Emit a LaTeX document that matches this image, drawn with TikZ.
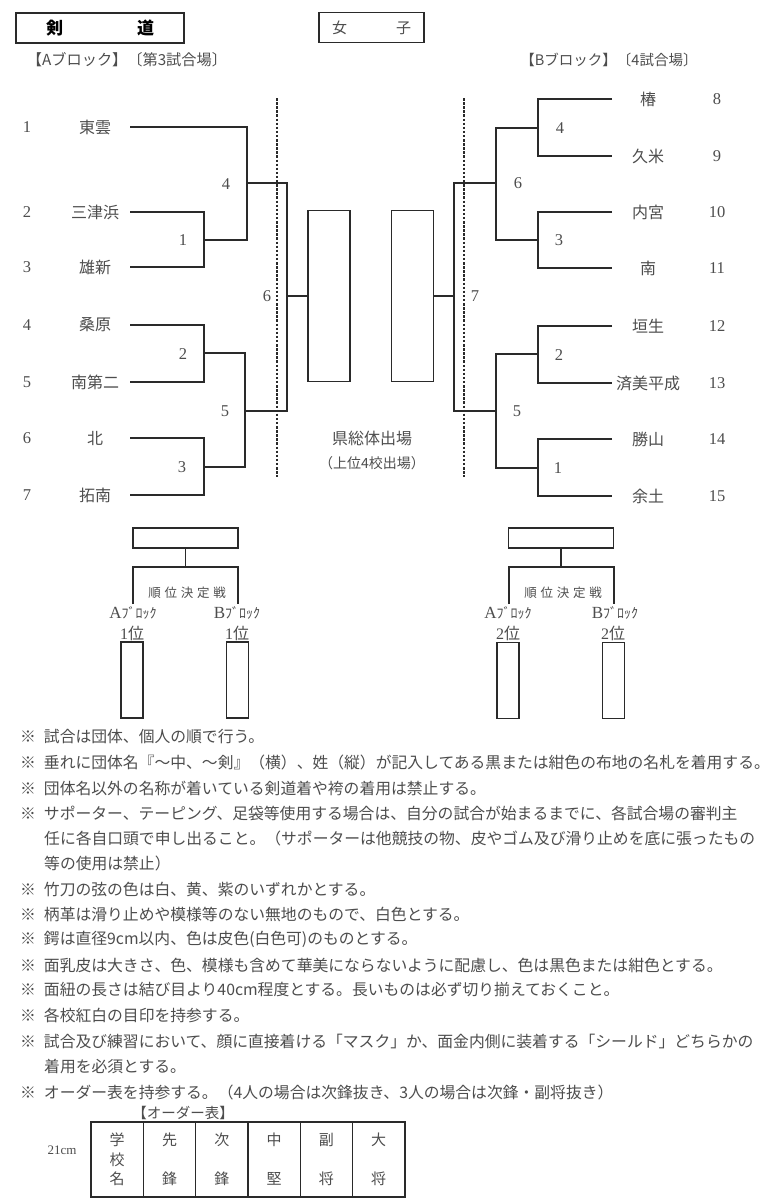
\documentclass[tikz,border=0pt]{standalone}
\usepackage{fontspec}
\setmainfont{Noto Sans CJK JP}
\newfontfamily\numfont{Liberation Serif}
\newfontfamily\wideJP[LetterSpace=30]{Noto Sans CJK JP}
\usepackage{xcolor}
\usepackage{tikz}
\usetikzlibrary{positioning}
\definecolor{KDInk}{HTML}{2A2A2A}
\definecolor{KDText}{HTML}{4D4D4D}

\tikzset{
  ln/.style={draw=KDInk, line width=1.3pt},
  dashln/.style={draw=KDInk, line width=1.1pt, dash pattern=on 2.5pt off 1.6pt},
  team/.style={text=KDText, font=\fontsize{16}{18}\selectfont},
  seed/.style={text=KDText, font=\numfont\fontsize{16.5}{18}\selectfont},
  game/.style={text=KDText, font=\numfont\fontsize{16.5}{18}\selectfont},
  slot/.style={draw=KDInk, line width=1.3pt, inner sep=0pt, minimum width=42pt, minimum height=171pt},
  rankbox/.style={draw=KDInk, line width=1.3pt, inner sep=0pt, minimum width=105pt, minimum height=20pt},
  tallbox/.style={draw=KDInk, line width=1.3pt, inner sep=0pt, minimum width=22pt, minimum height=76pt},
  titlebox/.style={draw=KDInk, line width=1.3pt, inner sep=0pt, minimum height=30pt},
  hdr/.style={text=KDText, font=\fontsize{14.5}{18}\selectfont},
  blk/.style={text=KDText, inner sep=0pt},
  note/.style={anchor=west, text=KDText, inner sep=0pt, font=\fontsize{15.8}{18}\selectfont},
  cell/.style={draw=KDInk, line width=1.3pt, inner sep=0pt, outer sep=0pt,
    minimum width=52.3pt, minimum height=75pt, align=center, text=KDText,
    font=\fontsize{15}{19.5}\selectfont},
}

\begin{document}
\begin{tikzpicture}[x=1pt, y=-1pt]
  \fill[white] (0,0) rectangle (781,1200);
  \useasboundingbox (0,0) rectangle (781,1200);

  % heading
  \node[titlebox, minimum width=168pt] (kendo) at (100,28)
    {\fontsize{17}{18}\selectfont\bfseries 剣\hspace{74pt}道};
  \node[titlebox, minimum width=105pt, text=KDText] (girls) at (371.5,27.5)
    {\fontsize{15}{18}\selectfont 女\hspace{49pt}子};
  \node[hdr, font=\fontsize{15.2}{18}\selectfont] (blockA) at (127,60) {【Aブロック】〔第3試合場〕};
  \node[hdr] (blockB) at (609,60) {【Bブロック】〔4試合場〕};

  % A block teams
  \foreach \n/\y/\s in {1/127/東雲, 2/212/三津浜, 3/267/雄新, 4/325/桑原,
                        5/382/南第二, 6/438/北, 7/495/拓南} {
    \node[seed] (nA\n) at (27,\y) {\n};
    \node[team] (tA\n) at (95,\y) {\s};
    \coordinate (eA\n) at (130,\y);
  }

  % B block teams
  \foreach \n/\y/\s in {8/99/椿, 9/156/久米, 10/212/内宮, 11/268/南,
                        12/326/垣生, 13/383/済美平成, 14/439/勝山, 15/496/余土} {
    \node[seed] (nB\n) at (717,\y) {\n};
    \node[team] (tB\n) at (648,\y) {\s};
    \coordinate (eB\n) at (612,\y);
  }

  % A block games
  \coordinate (jA1) at (204,240);
  \coordinate (jA2) at (204,353);
  \coordinate (jA3) at (204,467);
  \coordinate (jA4) at (247,183);
  \coordinate (jA5) at (245,411);
  \coordinate (jA6) at (287,296);
  \node[game] (gA1) at (183,240) {1};
  \node[game] (gA2) at (183,354) {2};
  \node[game] (gA3) at (182,467) {3};
  \node[game] (gA4) at (226,184) {4};
  \node[game] (gA5) at (225,411) {5};
  \node[game] (gA6) at (267,296) {6};

  % B block games
  \coordinate (jB4) at (538,128);
  \coordinate (jB3) at (538,240);
  \coordinate (jB2) at (538,354);
  \coordinate (jB1) at (538,468);
  \coordinate (jB6) at (496,183);
  \coordinate (jB5) at (496,411);
  \coordinate (jB7) at (454,296);
  \node[game] (gB4) at (560,128) {4};
  \node[game] (gB3) at (559,240) {3};
  \node[game] (gB2) at (559,355) {2};
  \node[game] (gB1) at (558,468) {1};
  \node[game] (gB6) at (518,183) {6};
  \node[game] (gB5) at (517,411) {5};
  \node[game] (gB7) at (475,296) {7};

  % final slots
  \node[slot] (finA) at (329,296) {};
  \node[slot] (finB) at (412.5,296) {};
  \node[team] (pref) at (372,438) {県総体出場};
  \node[text=KDText, font=\fontsize{14}{16}\selectfont] (prefsub) at (372,463) {（上位4校出場）};

  \draw[ln] (eA2) -| (jA1) |- (eA3);
  \draw[ln] (eA4) -| (jA2) |- (eA5);
  \draw[ln] (eA6) -| (jA3) |- (eA7);
  \draw[ln] (eA1) -| (jA4) |- (jA1);
  \draw[ln] (jA2) -| (jA5) |- (jA3);
  \draw[ln] (jA4) -| (jA6) |- (jA5);
  \draw[ln] (jA6) -- (finA.west);

  \draw[ln] (eB8) -| (jB4) |- (eB9);
  \draw[ln] (eB10) -| (jB3) |- (eB11);
  \draw[ln] (eB12) -| (jB2) |- (eB13);
  \draw[ln] (eB14) -| (jB1) |- (eB15);
  \draw[ln] (jB4) -| (jB6) |- (jB3);
  \draw[ln] (jB2) -| (jB5) |- (jB1);
  \draw[ln] (jB6) -| (jB7) |- (jB5);
  \draw[ln] (jB7) -- (finB.east);

  % court borders
  \coordinate (dAt) at (277,98);
  \coordinate (dAb) at (277,477);
  \coordinate (dBt) at (464,98);
  \coordinate (dBb) at (464,477);
  \draw[dashln] (dAt) -- (dAb);
  \draw[dashln] (dBt) -- (dBb);

  % ranking games
  \node[rankbox] (rkA) at (185.5,538) {};
  \coordinate (rkAm) at (185.5,567);
  \coordinate (rkAl) at (133,604);
  \coordinate (rkAr) at (238,604);
  \draw[ln] (rkA) -- (rkAm);
  \draw[ln] (rkAl) |- (rkAm) -| (rkAr);
  \node[text=KDText, font=\wideJP\fontsize{12.5}{14}\selectfont] (rkAt) at (187,593) {順位決定戦};
  \node[blk] (rkAa) at (133,613) {{\numfont\fontsize{17}{18}\selectfont A}{\fontsize{14}{16}\selectfont ﾌﾞﾛｯｸ}};
  \node[blk] (rkAb) at (237,613) {{\numfont\fontsize{17}{18}\selectfont B}{\fontsize{14}{16}\selectfont ﾌﾞﾛｯｸ}};
  \node[blk, font=\fontsize{16}{18}\selectfont] (rkA1) at (132,633) {{\numfont 1}位};
  \node[blk, font=\fontsize{16}{18}\selectfont] (rkA2) at (237,633) {{\numfont 1}位};
  \node[tallbox] (bxA1) at (132,680) {};
  \node[tallbox] (bxA2) at (237.5,680) {};

  \node[rankbox] (rkB) at (561,538) {};
  \coordinate (rkBm) at (561,567);
  \coordinate (rkBl) at (509,604);
  \coordinate (rkBr) at (614,604);
  \draw[ln] (rkB) -- (rkBm);
  \draw[ln] (rkBl) |- (rkBm) -| (rkBr);
  \node[text=KDText, font=\wideJP\fontsize{12.5}{14}\selectfont] (rkBt) at (563,593) {順位決定戦};
  \node[blk] (rkBa) at (508,613) {{\numfont\fontsize{17}{18}\selectfont A}{\fontsize{14}{16}\selectfont ﾌﾞﾛｯｸ}};
  \node[blk] (rkBb) at (615,613) {{\numfont\fontsize{17}{18}\selectfont B}{\fontsize{14}{16}\selectfont ﾌﾞﾛｯｸ}};
  \node[blk, font=\fontsize{16}{18}\selectfont] (rkB1) at (508,633) {{\numfont 2}位};
  \node[blk, font=\fontsize{16}{18}\selectfont] (rkB2) at (613,633) {{\numfont 2}位};
  \node[tallbox] (bxB1) at (508,680.5) {};
  \node[tallbox] (bxB2) at (613.5,680.5) {};

  % notes
  \node[note] (n0) at (20,737) {※\hspace{8pt}試合は団体、個人の順で行う。};
  \node[note] (n1) at (20,762) {※\hspace{8pt}垂れに団体名『～中、～剣』（横）、姓（縦）が記入してある黒または紺色の布地の名札を着用する。};
  \node[note] (n2) at (20,788) {※\hspace{8pt}団体名以外の名称が着いている剣道着や袴の着用は禁止する。};
  \node[note] (n3) at (20,813) {※\hspace{8pt}サポーター、テーピング、足袋等使用する場合は、自分の試合が始まるまでに、各試合場の審判主};
  \node[note] (n4) at (44,838) {任に各自口頭で申し出ること。（サポーターは他競技の物、皮やゴム及び滑り止めを底に張ったもの};
  \node[note] (n5) at (44,863) {等の使用は禁止）};
  \node[note] (n6) at (20,889) {※\hspace{8pt}竹刀の弦の色は白、黄、紫のいずれかとする。};
  \node[note] (n7) at (20,914) {※\hspace{8pt}柄革は滑り止めや模様等のない無地のもので、白色とする。};
  \node[note] (n8) at (20,939) {※\hspace{8pt}鍔は直径9cm以内、色は皮色(白色可)のものとする。};
  \node[note] (n9) at (20,965) {※\hspace{8pt}面乳皮は大きさ、色、模様も含めて華美にならないように配慮し、色は黒色または紺色とする。};
  \node[note] (n10) at (20,990) {※\hspace{8pt}面紐の長さは結び目より40cm程度とする。長いものは必ず切り揃えておくこと。};
  \node[note] (n11) at (20,1015) {※\hspace{8pt}各校紅白の目印を持参する。};
  \node[note] (n12) at (20,1041) {※\hspace{8pt}試合及び練習において、顔に直接着ける「マスク」か、面金内側に装着する「シールド」どちらかの};
  \node[note] (n13) at (44,1066) {着用を必須とする。};
  \node[note] (n14) at (20,1092) {※\hspace{8pt}オーダー表を持参する。（4人の場合は次鋒抜き、3人の場合は次鋒・副将抜き）};

  % order sheet
  \node[hdr] (otitle) at (183,1113) {【オーダー表】};
  \node[text=KDText, font=\numfont\fontsize{13}{14}\selectfont] (osize) at (62,1150) {21cm};
  \node[cell] (ot1) at (117.2,1159.5) {学\\校\\名};
  \node[cell, right=0pt of ot1] (ot2) {先\\[19.5pt]鋒};
  \node[cell, right=0pt of ot2] (ot3) {次\\[19.5pt]鋒};
  \node[cell, right=0pt of ot3] (ot4) {中\\[19.5pt]堅};
  \node[cell, right=0pt of ot4] (ot5) {副\\[19.5pt]将};
  \node[cell, right=0pt of ot5] (ot6) {大\\[19.5pt]将};
\end{tikzpicture}
\end{document}
